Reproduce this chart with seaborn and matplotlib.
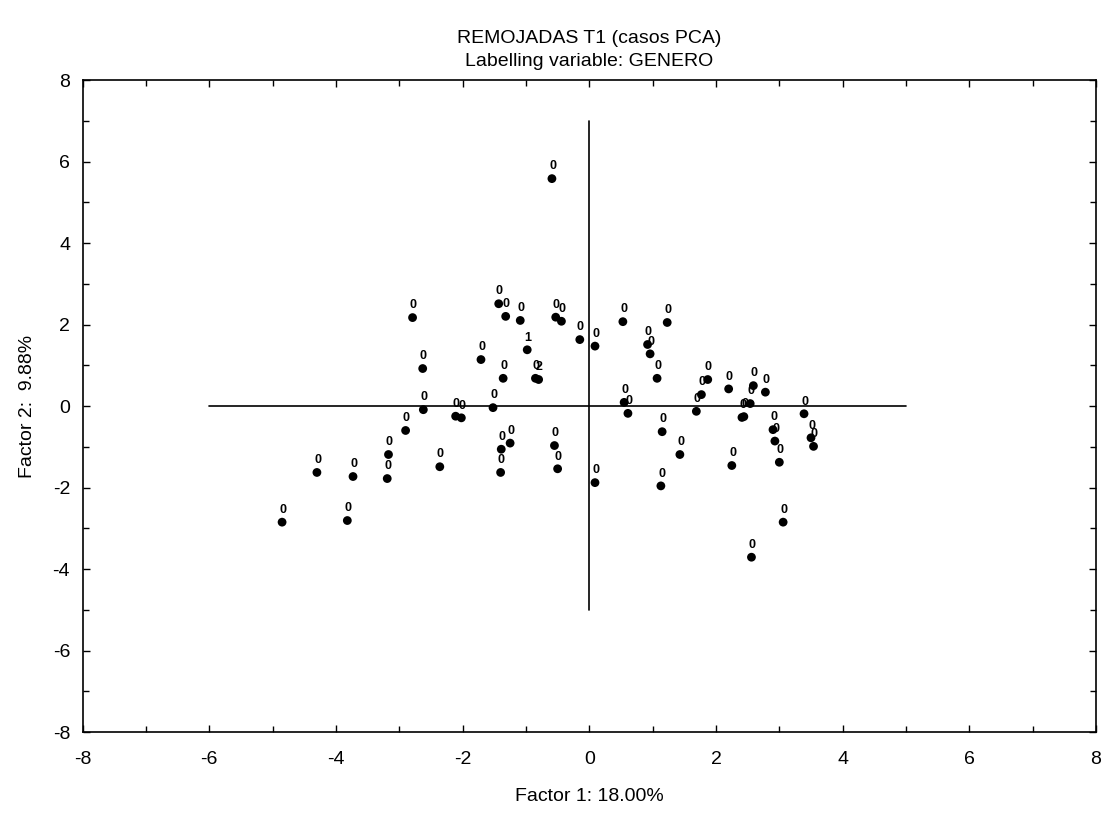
import matplotlib
matplotlib.use("Agg")
import matplotlib.pyplot as plt
import seaborn as sns
import pandas as pd
from matplotlib.ticker import MultipleLocator

# ---- data ----
factor1 = [-2.79, -1.43, -1.32, -1.09, -0.53, -0.44, -0.15, 0.09, -0.98, -1.71,
           -2.63, -1.36, -0.85, -0.80, -2.62, -2.11, -2.02, -1.52, -2.90, -3.17,
           -1.39, -1.25, -0.55, -0.50, -2.36, -1.40, -3.19, -3.73, -4.30, 0.09,
           -4.85, -3.82, -0.59,
           0.53, 1.23, 0.92, 0.96, 1.07, 0.55, 0.61, 1.87, 1.77, 1.69,
           2.20, 2.59, 2.54, 2.78, 2.41, 2.44, 3.39, 2.90, 2.93, 3.00,
           3.50, 3.54, 1.15, 1.43, 2.25, 1.13, 3.06, 2.56]
factor2 = [2.17, 2.51, 2.20, 2.10, 2.18, 2.08, 1.63, 1.47, 1.38, 1.14,
           0.92, 0.68, 0.68, 0.65, -0.09, -0.25, -0.29, -0.04, -0.60, -1.19,
           -1.06, -0.91, -0.97, -1.54, -1.49, -1.63, -1.78, -1.73, -1.63, -1.88,
           -2.85, -2.81, 5.58,
           2.07, 2.05, 1.51, 1.28, 0.68, 0.09, -0.18, 0.65, 0.28, -0.13,
           0.42, 0.50, 0.06, 0.34, -0.28, -0.26, -0.19, -0.58, -0.86, -1.38,
           -0.78, -0.99, -0.63, -1.19, -1.46, -1.96, -2.85, -3.71]
genero = ["0", "0", "0", "0", "0", "0", "0", "0", "1", "0",
          "0", "0", "0", "2", "0", "0", "0", "0", "0", "0",
          "0", "0", "0", "0", "0", "0", "0", "0", "0", "0",
          "0", "0", "0",
          "0", "0", "0", "0", "0", "0", "0", "0", "0", "0",
          "0", "0", "0", "0", "0", "0", "0", "0", "0", "0",
          "0", "0", "0", "0", "0", "0", "0", "0"]

title = "REMOJADAS T1 (casos PCA)\nLabelling variable: GENERO"
xlabel = "Factor 1: 18.00%"
ylabel = "Factor 2:  9.88%"

df = pd.DataFrame({"f1": factor1, "f2": factor2, "lab": genero})

sns.set_theme(style="white")
plt.rcParams["font.family"] = ["Liberation Sans", "DejaVu Sans"]
plt.rcParams["axes.unicode_minus"] = False
plt.rcParams["text.color"] = "black"
plt.rcParams["axes.labelcolor"] = "black"
plt.rcParams["xtick.color"] = "black"
plt.rcParams["ytick.color"] = "black"

fig = plt.figure(figsize=(11.05, 8.14), dpi=100)
ax = fig.add_axes([0.0747, 0.1007, 0.9172, 0.8010])

# reference cross lines
ax.plot([-6, 5], [0, 0], color="black", lw=1.2, zorder=1)
ax.plot([0, 0], [-5, 7], color="black", lw=1.2, zorder=1)

sns.scatterplot(data=df, x="f1", y="f2", color="black", edgecolor="none",
                s=40, ax=ax, zorder=3, legend=False)

for x, y, t in zip(df.f1, df.f2, df.lab):
    ax.annotate(t, (x, y), xytext=(0.5, 4.5), textcoords="offset points",
                ha="center", va="bottom", fontsize=9, color="black",
                fontweight="bold", zorder=4)

ax.set_xlim(-8, 8)
ax.set_ylim(-8, 8)
ax.xaxis.set_major_locator(MultipleLocator(2))
ax.yaxis.set_major_locator(MultipleLocator(2))
ax.xaxis.set_minor_locator(MultipleLocator(1))
ax.yaxis.set_minor_locator(MultipleLocator(1))
ax.tick_params(which="both", direction="in", top=True, right=True,
               bottom=True, left=True, color="black", width=1)
ax.tick_params(which="major", length=5, labelsize=14, labelcolor="black")
ax.tick_params(axis="x", which="major", pad=14)
ax.tick_params(axis="y", which="major", pad=9)
ax.tick_params(which="minor", length=4)

for sp in ax.spines.values():
    sp.set_color("black")
    sp.set_linewidth(1.2)

ax.set_xlabel(xlabel, fontsize=14, labelpad=14, color="black")
ax.set_ylabel(ylabel, fontsize=14, labelpad=12, color="black")
ax.set_title(title, fontsize=14, pad=10, linespacing=1.45, color="black")

fig.savefig("out.png", dpi=100)
